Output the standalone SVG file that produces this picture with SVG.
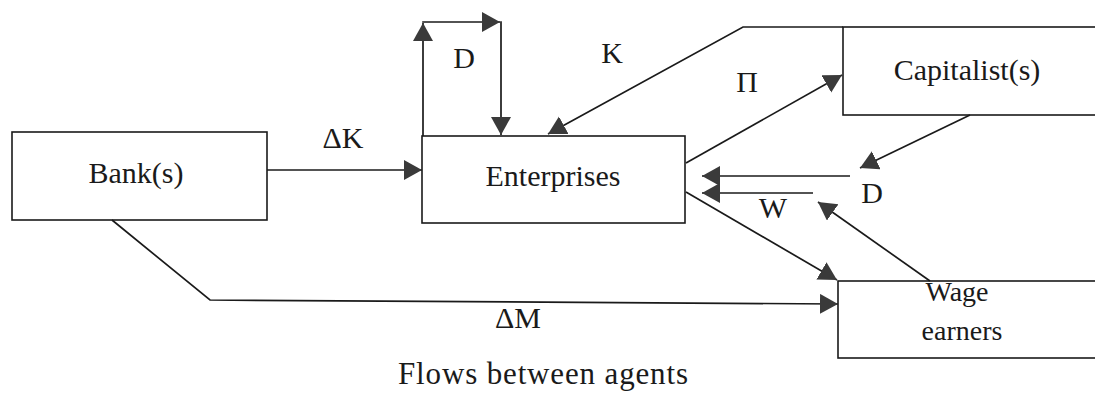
<svg xmlns="http://www.w3.org/2000/svg" width="1095" height="394" viewBox="0 0 1095 394">
  <style>
    .box { fill: #ffffff; stroke: #1a1a1a; stroke-width: 1.6; }
    .lbl { font-family: "Liberation Serif", "Times New Roman", serif; font-size: 30px; fill: #1a1a1a; text-anchor: middle; }
    .conn { fill: none; stroke: #1a1a1a; stroke-width: 1.7; }
    .arr { marker-end: url(#head); }
  </style>
  <defs>
    <marker id="head" markerUnits="userSpaceOnUse" markerWidth="20" markerHeight="22" refX="18" refY="10" orient="auto">
      <path d="M0,0 L18,10 L0,20 Z" fill="#3a3a3a"/>
    </marker>
  </defs>
  <rect width="1095" height="394" fill="#ffffff"/>

  <g id="bank">
    <rect class="box" x="12" y="132" width="255" height="88"/>
    <text class="lbl" x="136" y="183">Bank(s)</text>
  </g>
  <g id="enterprises">
    <rect class="box" x="422" y="136" width="263" height="87"/>
    <text class="lbl" x="553" y="186">Enterprises</text>
  </g>
  <g id="capitalists">
    <rect class="box" x="843" y="27" width="270" height="88"/>
    <text class="lbl" x="967" y="80">Capitalist(s)</text>
  </g>
  <g id="wage-earners">
    <rect class="box" x="838" y="281" width="270" height="77"/>
    <text class="lbl" x="957" y="301" style="font-size:28px">Wage</text>
    <text class="lbl" x="962" y="340" style="font-size:28px">earners</text>
  </g>

  <g id="connectors">
    <line class="conn arr" x1="267" y1="170" x2="422" y2="170"/>
    <line class="conn arr" x1="423" y1="136" x2="423" y2="23"/>
    <line class="conn arr" x1="422.2" y1="22" x2="500" y2="22"/>
    <line class="conn arr" x1="501" y1="21.2" x2="501" y2="135"/>
    <polyline class="conn arr" points="843,27 743,27 548,134"/>
    <line class="conn arr" x1="686" y1="163" x2="842" y2="75"/>
    <line class="conn arr" x1="970" y1="115" x2="860" y2="168"/>
    <line class="conn arr" x1="850" y1="176" x2="702" y2="176"/>
    <line class="conn arr" x1="813" y1="193" x2="702" y2="193"/>
    <line class="conn arr" x1="930" y1="281" x2="818" y2="202"/>
    <line class="conn arr" x1="686" y1="192" x2="837" y2="280"/>
    <polyline class="conn arr" points="112,220 210,300 838,304"/>
  </g>

  <g id="labels">
    <text class="lbl" x="343" y="148">ΔK</text>
    <text class="lbl" x="464" y="68">D</text>
    <text class="lbl" x="612" y="63">K</text>
    <text class="lbl" x="747" y="92">Π</text>
    <text class="lbl" x="872" y="203">D</text>
    <text class="lbl" x="773" y="218">W</text>
    <text class="lbl" x="518" y="328">ΔM</text>
    <text class="lbl" x="398" y="384" style="font-size:31px;text-anchor:start" textLength="290" lengthAdjust="spacing">Flows between agents</text>
  </g>
</svg>
